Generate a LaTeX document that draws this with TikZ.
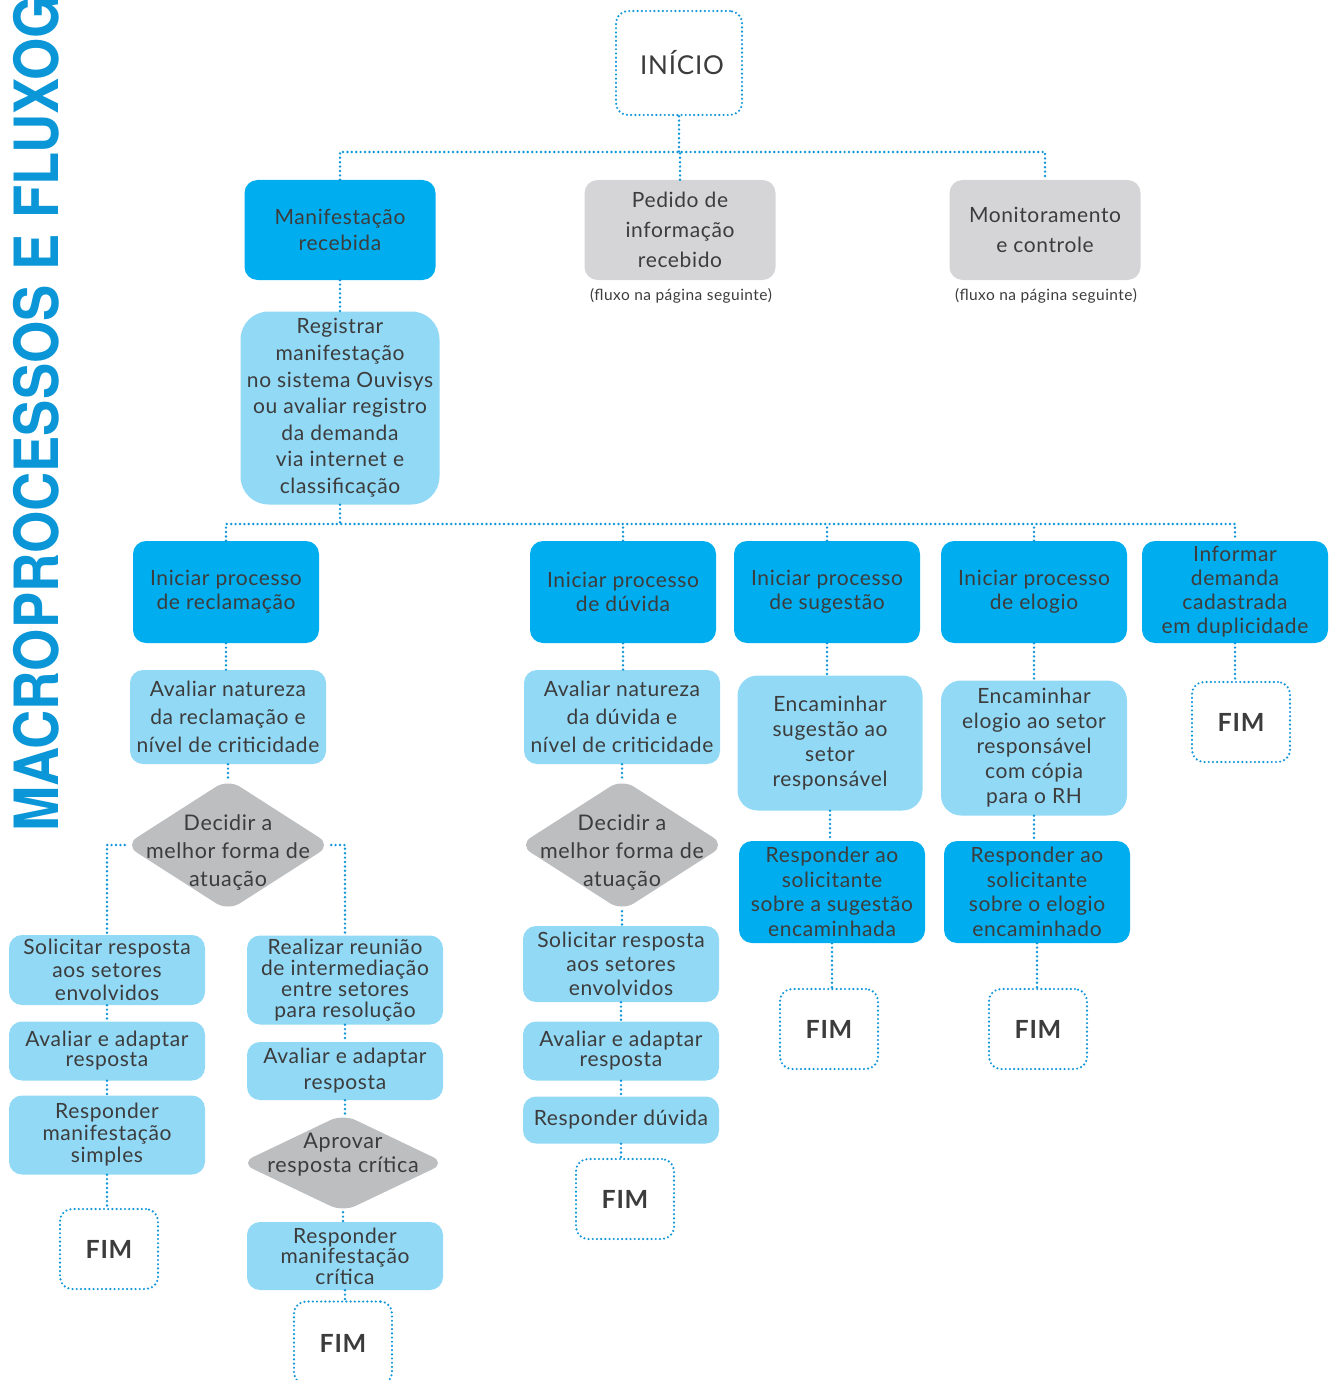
\documentclass[tikz,border=0pt]{standalone}
\usepackage{fontspec}
\setmainfont[LetterSpace=3]{Lato}
\newfontfamily\titlefont[FakeStretch=0.89]{TeX Gyre Heros}
\usetikzlibrary{shapes.geometric}
\definecolor{ouvblue}{HTML}{00AEEF}
\definecolor{ouvlight}{HTML}{92D9F6}
\definecolor{ouvgrey}{HTML}{D5D5D7}
\definecolor{ouvdiam}{HTML}{BDBEC0}
\definecolor{ouvline}{HTML}{1196D8}
\definecolor{ouvtext}{HTML}{3C3C3C}
\definecolor{ouvtitle}{HTML}{0A96D7}
\tikzset{>=latex}

\begin{document}
\begin{tikzpicture}[x=1pt, y=-1pt,
every node/.style={text=ouvtext, align=center, inner sep=0pt, font=\fontsize{21}{26}\selectfont},
dark/.style={rectangle, rounded corners=13pt, fill=ouvblue, minimum width=186pt, minimum height=102pt},
light/.style={rectangle, rounded corners=13pt, fill=ouvlight, minimum width=196pt},
grey/.style={rectangle, rounded corners=13pt, fill=ouvgrey, minimum width=191pt, minimum height=100pt},
decision/.style={diamond, rounded corners=14pt, fill=ouvdiam, minimum width=206pt, minimum height=132pt},
fim/.style={rectangle, rounded corners=12pt, draw=ouvline, line width=2.4pt, dash pattern=on 0pt off 4.2pt, line cap=round, fill=white, minimum width=98pt, minimum height=80pt, font=\bfseries\fontsize{25}{25}\selectfont},
note/.style={font=\fontsize{15.5}{18}\selectfont},
link/.style={draw=ouvline, line width=2.7pt, dash pattern=on 0pt off 4.4pt, line cap=round}]
\useasboundingbox (0,0) rectangle (1328,1380);
\clip (0,0) rectangle (1328,1380);

\node[rotate=90, anchor=base west, text=ouvtitle, font=\titlefont\bfseries\fontsize{61}{61}\selectfont] (titulo) at (58,832) {MACROPROCESSOS E FLUXOG};

\node[fim, minimum width=126pt, minimum height=104pt, font=\fontsize{26}{26}\selectfont] (inicio) at (679,63) {\raisebox{-4pt}{\hspace{6pt}INÍCIO}};

% primeiro nivel
\node[dark, minimum width=191pt, minimum height=100pt] (manif) at (340,230) {Manifestação\\recebida};
\node[grey, font=\fontsize{21}{30}\selectfont] (pedido) at (680,230) {Pedido de\\informação\\recebido};
\node[note] (nota1) at (681,296) {(fluxo na página seguinte)};
\node[grey, font=\fontsize{21}{30}\selectfont] (monit) at (1045,230) {Monitoramento\\e controle};
\node[note] (nota2) at (1046,296) {(fluxo na página seguinte)};

\node[light, minimum width=199pt, minimum height=193pt, rounded corners=28pt, font=\fontsize{21}{26.6}\selectfont] (registrar) at (340,408) {Registrar\\manifestação\\no sistema Ouvisys\\ou avaliar registro\\da demanda\\via internet e\\classificação};

% tipos de manifestacao
\node[dark, font=\fontsize{21}{24}\selectfont] (recl) at (226,592) {Iniciar processo\\de reclamação};
\node[dark, font=\fontsize{21}{24}\selectfont] (duvida) at (623,592) {Iniciar processo\\de dúvida};
\node[dark, font=\fontsize{21}{24}\selectfont] (suges) at (827,592) {Iniciar processo\\de sugestão};
\node[dark, font=\fontsize{21}{24}\selectfont] (elogio) at (1034,592) {Iniciar processo\\de elogio};
\node[dark, font=\fontsize{21}{24}\selectfont] (dupl) at (1235,592) {Informar\\demanda\\cadastrada\\em duplicidade};

\node[light, minimum height=94pt, font=\fontsize{21}{28}\selectfont] (avrecl) at (228,717) {Avaliar natureza\\da reclamação e\\nível de criticidade};
\node[light, minimum height=94pt, font=\fontsize{21}{28}\selectfont] (avduv) at (622,717) {Avaliar natureza\\da dúvida e\\nível de criticidade};
\node[light, minimum width=185pt, minimum height=135pt, rounded corners=20pt, font=\fontsize{21}{25}\selectfont] (encsug) at (830,743) {Encaminhar\\sugestão ao\\setor\\responsável};
\node[light, minimum width=186pt, minimum height=135pt, rounded corners=20pt, font=\fontsize{21}{25}\selectfont] (encelo) at (1034,748) {Encaminhar\\elogio ao setor\\responsável\\com cópia\\para o RH};
\node[fim] (fim5) at (1241,722) {FIM};

% decisoes
\node[decision] (decrecl) at (228,845) {};
\node[font=\fontsize{21.5}{28}\selectfont] (decrecltxt) at (228,852) {Decidir a\\melhor forma de\\atuação};
\node[decision] (decduv) at (622,845) {};
\node[font=\fontsize{21.5}{28}\selectfont] (decduvtxt) at (622,852) {Decidir a\\melhor forma de\\atuação};
\node[dark, font=\fontsize{21}{24.5}\selectfont] (respsug) at (832,892) {Responder ao\\solicitante\\sobre a sugestão\\encaminhada};
\node[dark, font=\fontsize{21}{24.5}\selectfont] (respelo) at (1037,892) {Responder ao\\solicitante\\sobre o elogio\\encaminhado};
\node[fim] (fim4) at (829,1029) {FIM};
\node[fim] (fim6) at (1038,1029) {FIM};

% reclamacao
\node[light, minimum height=70pt, font=\fontsize{21}{23}\selectfont] (solrecl) at (107,970) {Solicitar resposta\\aos setores\\envolvidos};
\node[light, minimum height=59pt, font=\fontsize{21}{20}\selectfont] (adaprecl) at (107,1051) {Avaliar e adaptar\\resposta};
\node[light, minimum height=79pt, font=\fontsize{21}{22}\selectfont] (respsimp) at (107,1135) {Responder\\manifestação\\simples};
\node[fim] (fim1) at (109,1249) {FIM};

\node[light, minimum height=89pt, font=\fontsize{21}{21}\selectfont] (reuniao) at (345,980) {Realizar reunião\\de intermediação\\entre setores\\para resolução};
\node[light, minimum height=58pt, font=\fontsize{21}{26}\selectfont] (adapcrit) at (345,1071) {Avaliar e adaptar\\resposta};
\node[decision, minimum width=205pt, minimum height=98pt] (aprovar) at (343,1163) {};
\node[font=\fontsize{21.5}{24}\selectfont] (aprovartxt) at (343,1155) {Aprovar\\resposta crítica};
\node[light, minimum height=68pt, font=\fontsize{21}{20.5}\selectfont] (respcrit) at (345,1256) {Responder\\manifestação\\crítica};
\node[fim, minimum height=83pt] (fim2) at (343,1343) {FIM};

% duvida
\node[light, minimum height=76pt, font=\fontsize{21}{24}\selectfont] (solduv) at (621,964) {Solicitar resposta\\aos setores\\envolvidos};
\node[light, minimum height=59pt, font=\fontsize{21}{20}\selectfont] (adapduv) at (621,1051) {Avaliar e adaptar\\resposta};
\node[light, minimum height=47pt] (respduv) at (621,1120) {Responder dúvida};
\node[fim] (fim3) at (625,1199) {FIM};

% ligacoes
\coordinate (split1) at (680,152);
\coordinate (split2) at (337,524);
\draw[link] (inicio.south) -- (inicio.south |- split1);
\draw[link] (manif.north) |- (split1) -| (monit.north);
\draw[link] (pedido.north) -- (pedido.north |- split1);
\draw[link] (registrar.south) -- (registrar.south |- split2);
\draw[link] (recl.north) |- (split2) -| (dupl.north);
\foreach \n in {duvida, suges, elogio}
  \draw[link] (\n.north) -- (\n.north |- split2);
\foreach \a/\b in {manif/registrar, recl/avrecl, avrecl/decrecl, duvida/avduv, avduv/decduv,
  suges/encsug, encsug/respsug, respsug/fim4, elogio/encelo, encelo/respelo, respelo/fim6,
  dupl/fim5, solrecl/adaprecl, adaprecl/respsimp, respsimp/fim1,
  reuniao/adapcrit, adapcrit/aprovar, aprovar/respcrit, respcrit/fim2,
  decduv/solduv, solduv/adapduv, adapduv/respduv, respduv/fim3}
  \draw[link] (\a.south) -- (\a.south |- \b.north);
\draw[link] (decrecl.west) -| (solrecl.north);
\draw[link] (decrecl.east) -| (reuniao.north);

\end{tikzpicture}
\end{document}
